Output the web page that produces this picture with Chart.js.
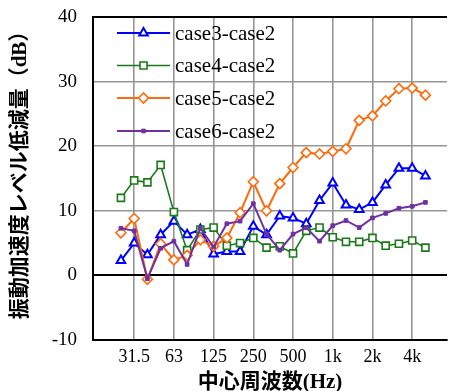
<!DOCTYPE html>
<html>
<head>
<meta charset="utf-8">
<script src="https://cdn.jsdelivr.net/npm/chart.js@4/dist/chart.umd.min.js"></script>
<style>
html,body{margin:0;padding:0;background:#fff;}
canvas{display:block;}
</style>
</head>
<body>
<canvas id="c" width="454" height="391"></canvas>
<script>
// 1/3 octave band centre frequencies (Hz)
const categories = ['25','31.5','40','50','63','80','100','125','160','200','250','315','400','500','630','800','1k','1.25k','1.6k','2k','2.5k','3.15k','4k','5k'];
const tickLabels = ['31.5','63','125','250','500','1k','2k','4k'];
const seriesNames = ['case3-case2','case4-case2','case5-case2','case6-case2'];
const case3 = [2.3,5.0,3.2,6.3,8.4,6.3,7.1,3.3,3.7,3.7,7.6,6.3,9.2,8.9,8.0,11.6,14.3,10.9,10.2,11.3,14.0,16.6,16.6,15.4];
const case4 = [12.0,14.7,14.4,17.1,9.8,3.9,7.1,7.4,4.6,5.0,5.8,4.3,4.5,3.4,6.9,7.4,5.9,5.2,5.2,5.8,4.6,4.9,5.4,4.3];
const case5 = [6.6,8.8,-0.6,4.9,2.4,3.1,5.5,4.5,5.8,9.7,14.5,10.0,14.2,16.7,19.0,18.8,19.2,19.6,24.0,24.7,27.0,28.9,29.0,27.9];
const case6 = [7.3,6.9,-0.5,4.2,5.3,1.7,7.3,4.4,8.0,8.4,11.1,6.4,3.9,6.4,7.4,5.3,7.7,8.5,7.4,8.9,9.6,10.4,10.7,11.3];
const yTitle = '振動加速度レベル低減量（dB）';
const xTitle = '中心周波数(Hz)';

const serif = "'Liberation Serif', 'Times New Roman', 'Noto Sans CJK JP', serif";
const toPts = arr => arr.map((v, i) => ({x: i, y: v}));

const styles = [
  {color:'#0000ff', pointStyle:'triangle', radius:5, bw:2, fill:'#ffffff', lw:2},
  {color:'#1a7a1a', pointStyle:'rect', radius:5, bw:1.6, fill:'#ffffff', lw:1.6},
  {color:'#ff6a0a', pointStyle:'rectRot', radius:5, bw:1.6, fill:'#ffffff', lw:2},
  {color:'#7030a0', pointStyle:'rect', radius:2.6, bw:1, fill:'#7030a0', lw:2}
];
const allData = [case3, case4, case5, case6];

const datasets = allData.map((d, k) => ({
  label: seriesNames[k],
  data: toPts(d),
  borderColor: styles[k].color,
  backgroundColor: styles[k].fill,
  borderWidth: styles[k].lw,
  pointStyle: styles[k].pointStyle,
  pointRadius: styles[k].radius,
  pointBorderWidth: styles[k].bw,
  pointBorderColor: styles[k].color,
  pointBackgroundColor: styles[k].fill,
  tension: 0,
  order: 4 - k
}));

const tickIdx = [1,4,7,10,13,16,19,22];

const insideLegend = {
  id: 'insideLegend',
  afterDatasetsDraw(chart) {
    const ctx = chart.ctx;
    const rows = [33, 65.5, 98, 131];
    ctx.save();
    datasets.forEach((ds, k) => {
      const y = rows[k];
      ctx.strokeStyle = ds.borderColor;
      ctx.lineWidth = ds.borderWidth;
      ctx.beginPath();
      ctx.moveTo(117, y);
      ctx.lineTo(170, y);
      ctx.stroke();
      ctx.fillStyle = ds.pointBackgroundColor;
      ctx.strokeStyle = ds.pointBorderColor;
      ctx.lineWidth = ds.pointBorderWidth;
      Chart.helpers.drawPoint(ctx, {pointStyle: ds.pointStyle, radius: ds.pointRadius, borderWidth: ds.pointBorderWidth, rotation: 0}, 143.5, y);
      ctx.fillStyle = '#000';
      ctx.font = "21px " + serif;
      ctx.textBaseline = 'middle';
      ctx.textAlign = 'left';
      ctx.fillText(ds.label, 175, y + 1);
    });
    // vertical axis title
    ctx.translate(21, 170);
    ctx.rotate(-Math.PI / 2);
    ctx.font = "bold 21px " + serif;
    ctx.textAlign = 'center';
    ctx.textBaseline = 'middle';
    ctx.fillStyle = '#000';
    ctx.fillText(yTitle, 0, 0);
    ctx.restore();
  }
};

new Chart(document.getElementById('c'), {
  type: 'line',
  data: { datasets },
  plugins: [insideLegend],
  options: {
    responsive: false,
    animation: false,
    layout: { padding: { top: 17, left: 0, right: 0, bottom: 0 } },
    plugins: { legend: { display: false }, tooltip: { enabled: false } },
    scales: {
      x: {
        type: 'linear',
        min: -2.11,
        max: 24.63,
        afterBuildTicks: s => { s.ticks = tickIdx.map(v => ({value: v})); },
        afterFit: s => { s.height = 51; s.paddingLeft = 0; s.paddingRight = 0; },
        ticks: {
          autoSkip: false,
          maxRotation: 0,
          padding: 6,
          color: '#000',
          font: { family: serif, size: 18 },
          callback: (v) => { const i = tickIdx.indexOf(v); return i >= 0 ? tickLabels[i] : ''; }
        },
        grid: { color: '#969696', lineWidth: 1.6, drawTicks: false },
        border: { color: '#000', width: 2 },
        title: {
          display: true,
          text: xTitle,
          color: '#000',
          font: { family: serif, size: 21, weight: 'bold', lineHeight: 0.8 },
          padding: { top: 0, bottom: 0 }
        }
      },
      y: {
        min: -10,
        max: 40,
        afterFit: s => { s.width = 93; s.paddingTop = 0; s.paddingBottom = 0; },
        ticks: {
          stepSize: 10,
          padding: 16,
          color: '#000',
          font: { family: serif, size: 19 }
        },
        grid: {
          drawTicks: false,
          color: c => (c.tick && (c.tick.value === 0 || c.tick.value === 40)) ? '#000' : '#969696',
          lineWidth: c => (c.tick && (c.tick.value === 0 || c.tick.value === 40)) ? 2 : 1.6
        },
        border: { color: '#000', width: 2 },
        title: { display: false }
      }
    }
  }
});
</script>
</body>
</html>
